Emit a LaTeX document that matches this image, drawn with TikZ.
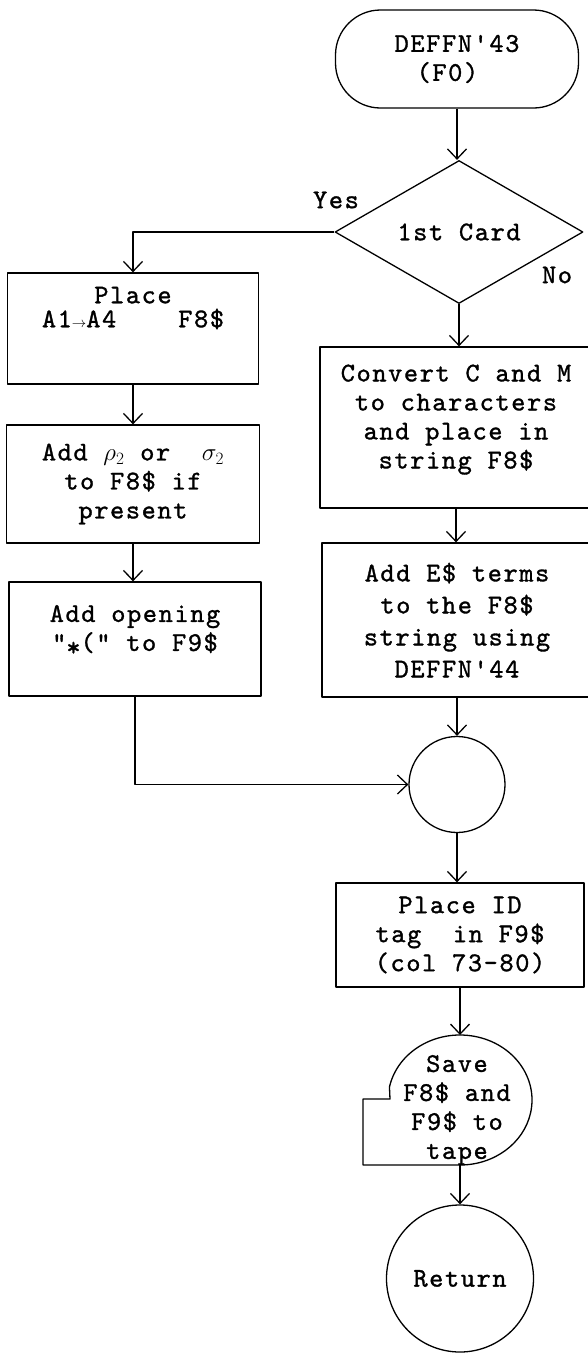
\documentclass[tikz,border=0pt]{standalone}
\usepackage{fontspec}
\newfontfamily\typew{lmmono10-regular}[Extension=.otf,LetterSpace=6,FakeBold=1.2]
\usetikzlibrary{arrows.meta,shapes.geometric}
\newcommand\toarr{{\fontsize{14}{14}\selectfont$\rightarrow$}}
\begin{document}
\begin{tikzpicture}[x=1pt, y=1pt, line width=1.3pt, line join=round, >={Straight Barb[length=10pt,width=19pt]},
	font=\typew\fontsize{27}{29}\selectfont, every node/.style={align=center, inner sep=0pt},
	blk/.style args={#1/#2}{draw, rectangle, minimum width=#1pt, minimum height=#2pt},
	term/.style={draw, rectangle, rounded corners=45pt, minimum width=243pt, minimum height=98pt},
	decision/.style={draw, diamond, aspect=1.73, minimum width=248pt, minimum height=143pt},
	circ/.style={draw, circle, minimum size=#1pt}]
	\useasboundingbox (0,0) rectangle (587,-1355);
	\node[term, align=left] (start) at (457,-59) {DEFFN'43\\\hspace*{22pt}(F0)};
	\node[decision] (card) at (459,-232) {1st Card};
	\node (yes) at (336,-200) {Yes};
	\node (no) at (557,-275) {No};
	\node[blk=251/111] (place) at (133,-328.5) {Place\\[-5pt]A1\toarr A4\hspace{62pt}F8\$\\[14pt]\mbox{}};
	\node[blk=253/118] (addrho) at (133,-484) {Add $\rho_2$ or~~$\sigma_2$\\to F8\$ if\\present};
	\node[blk=252/114] (opening) at (135,-639) {Add opening\\"\raisebox{-5pt}{*}(" to F9\$\\[-7pt]\mbox{}};
	\node[blk=272/161] (convert) at (456,-427.5) {Convert C and M\\to characters\\and place in\\string F8\$\\[-7pt]\mbox{}};
	\node[blk=270/154] (addE) at (457,-620) {Add E\$ terms\\[3pt]to the F8\$\\[3pt]string using\\[3pt]DEFFN'44};
	\node[circ=96] (conn) at (457,-784.5) {};
	\node[blk=248/104] (placeid) at (460,-935) {Place ID\\tag~~in F9\$\\(col 73–80)};
	% tape symbol
	\path (460,-1100) coordinate (tc) (460,-1035) coordinate (tapetop) (460,-1165) coordinate (tapebot);
	\draw ([shift={(168.5:72 and 65)}]tc) arc[start angle=168.5, end angle=-90, x radius=72, y radius=65]
		-- ++(-97,0) -- ++(0,66) -- ++(27,0) -- cycle;
	\node (tape) at (457,-1110) {Save\\F8\$ and\\F9\$ to\\tape};
	\node[circ=147] (return) at (460,-1278.5) {Return};
	% connectors
	\draw[->] (card.west) -| (place.north);
	\draw[->] (opening.south) |- (conn.west);
	\foreach \a/\b in {start/card,card/convert,place/addrho,addrho/opening,convert/addE,addE/conn,conn/placeid}
	\draw[->] (\a.south) -- (\a.south |- \b.north);
	\draw[->] (placeid.south) -- (tapetop);
	\draw[->] (tapebot) -- (return.north);
\end{tikzpicture}
\end{document}
